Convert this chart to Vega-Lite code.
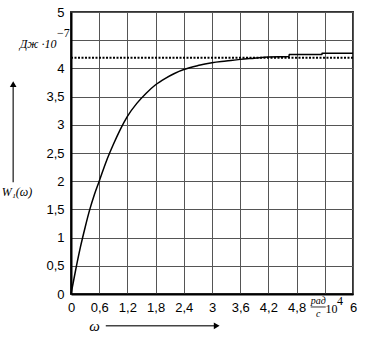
{
  "$schema": "https://vega.github.io/schema/vega-lite/v6.json",
  "width": 282,
  "height": 282,
  "autosize": "none",
  "padding": {"left": 71, "top": 12, "right": 20, "bottom": 61},
  "background": "white",
  "config": {
    "view": {"stroke": "#333", "strokeWidth": 2},
    "axis": {
      "grid": true, "gridColor": "#555", "gridWidth": 1, "gridOpacity": 1,
      "ticks": false, "domain": true, "domainColor": "#000", "domainWidth": 2,
      "labelFont": "Liberation Sans", "labelFontSize": 13, "labelColor": "#000",
      "title": null
    }
  },
  "encoding": {
    "x": {"field": "x", "type": "quantitative",
      "scale": {"domain": [0, 6], "nice": false, "zero": false},
      "axis": {"values": [0, 0.6, 1.2, 1.8, 2.4, 3, 3.6, 4.2, 4.8, 5.4, 6],
        "labelPadding": 7, "labelFlush": false,
        "labelExpr": "abs(datum.value - 5.4) < 0.01 ? '' : replace(format(datum.value, '.1~f'), '.', ',')"}},
    "y": {"field": "y", "type": "quantitative",
      "scale": {"domain": [0, 5], "nice": false, "zero": false},
      "axis": {"values": [0, 0.5, 1, 1.5, 2, 2.5, 3, 3.5, 4, 4.5, 5],
        "labelPadding": 7, "labelFlush": false,
        "labelExpr": "datum.value == 4.5 ? '' : replace(format(datum.value, '.1~f'), '.', ',')"}}
  },
  "layer": [
    {
      "data": {"values": [
        {"x": 0, "y": 0}, {"x": 0.1, "y": 0.43}, {"x": 0.2, "y": 0.83}, {"x": 0.3, "y": 1.18},
        {"x": 0.4, "y": 1.5}, {"x": 0.5, "y": 1.77}, {"x": 0.6, "y": 2.0}, {"x": 0.75, "y": 2.35},
        {"x": 0.9, "y": 2.65}, {"x": 1.05, "y": 2.92}, {"x": 1.2, "y": 3.15}, {"x": 1.4, "y": 3.38},
        {"x": 1.6, "y": 3.56}, {"x": 1.8, "y": 3.71}, {"x": 2.0, "y": 3.82}, {"x": 2.2, "y": 3.91},
        {"x": 2.4, "y": 3.98}, {"x": 2.7, "y": 4.05}, {"x": 3.0, "y": 4.1}, {"x": 3.3, "y": 4.13},
        {"x": 3.6, "y": 4.16}, {"x": 3.9, "y": 4.18}, {"x": 4.2, "y": 4.2}, {"x": 4.64, "y": 4.21},
        {"x": 4.641, "y": 4.245}, {"x": 5.34, "y": 4.245}, {"x": 5.341, "y": 4.27}, {"x": 6, "y": 4.27}
      ]},
      "mark": {"type": "line", "color": "#000", "strokeWidth": 1.5, "interpolate": "monotone"}
    },
    {
      "data": {"values": [{"x": 0, "x2": 6, "y": 4.19}]},
      "mark": {"type": "rule", "color": "#000", "strokeWidth": 2, "strokeDash": [2, 1.5]},
      "encoding": {"x2": {"field": "x2"}}
    },
    {
      "data": {"values": [
        {"x": -1.23, "y": 1.98, "x2": -1.23, "y2": 3.68},
        {"x": 0.74, "y": -0.565, "x2": 3.05, "y2": -0.565}
      ]},
      "mark": {"type": "rule", "color": "#444", "strokeWidth": 1.5},
      "encoding": {"x2": {"field": "x2"}, "y2": {"field": "y2"}}
    },
    {
      "data": {"values": [{"x": -1.23, "y": 3.72}]},
      "mark": {"type": "point", "shape": "triangle-up", "filled": true, "color": "#000", "size": 45, "opacity": 1}
    },
    {
      "data": {"values": [{"x": 3.1, "y": -0.565}]},
      "mark": {"type": "point", "shape": "triangle-right", "filled": true, "color": "#000", "size": 45, "opacity": 1}
    },
    {
      "data": {"values": [{"x": -1.15, "y": 1.8, "text": "W₁(ω)"}]},
      "mark": {"type": "text", "font": "Liberation Serif", "fontStyle": "italic", "fontSize": 12, "color": "#000", "align": "center", "baseline": "middle"},
      "encoding": {"text": {"field": "text"}}
    },
    {
      "data": {"values": [{"x": 0.5, "y": -0.565, "text": "ω"}]},
      "mark": {"type": "text", "font": "Liberation Serif", "fontStyle": "italic", "fontSize": 15, "color": "#000", "align": "center", "baseline": "middle"},
      "encoding": {"text": {"field": "text"}}
    },
    {
      "data": {"values": [{"x": -0.31, "y": 4.44, "text": "Дж ·10"}]},
      "mark": {"type": "text", "font": "Liberation Serif", "fontStyle": "italic", "fontSize": 12, "color": "#000", "align": "right", "baseline": "middle"},
      "encoding": {"text": {"field": "text"}}
    },
    {
      "data": {"values": [{"x": -0.3, "y": 4.63, "text": "−7"}, {"x": 5.66, "y": -0.12, "text": "4"}]},
      "mark": {"type": "text", "font": "Liberation Serif", "fontSize": 12, "color": "#000", "align": "left", "baseline": "middle"},
      "encoding": {"text": {"field": "text"}}
    },
    {
      "data": {"values": [{"x": 5.54, "y": -0.27, "text": "10"}]},
      "mark": {"type": "text", "font": "Liberation Serif", "fontSize": 12, "color": "#000", "align": "center", "baseline": "middle"},
      "encoding": {"text": {"field": "text"}}
    },
    {
      "data": {"values": [{"x": 5.26, "y": -0.13, "text": "рад"}, {"x": 5.26, "y": -0.35, "text": "с"}]},
      "mark": {"type": "text", "font": "Liberation Serif", "fontStyle": "italic", "fontSize": 10, "color": "#000", "align": "center", "baseline": "middle"},
      "encoding": {"text": {"field": "text"}}
    },
    {
      "data": {"values": [{"x": 5.1, "x2": 5.42, "y": -0.23}]},
      "mark": {"type": "rule", "color": "#000", "strokeWidth": 0.8},
      "encoding": {"x2": {"field": "x2"}}
    }
  ]
}
